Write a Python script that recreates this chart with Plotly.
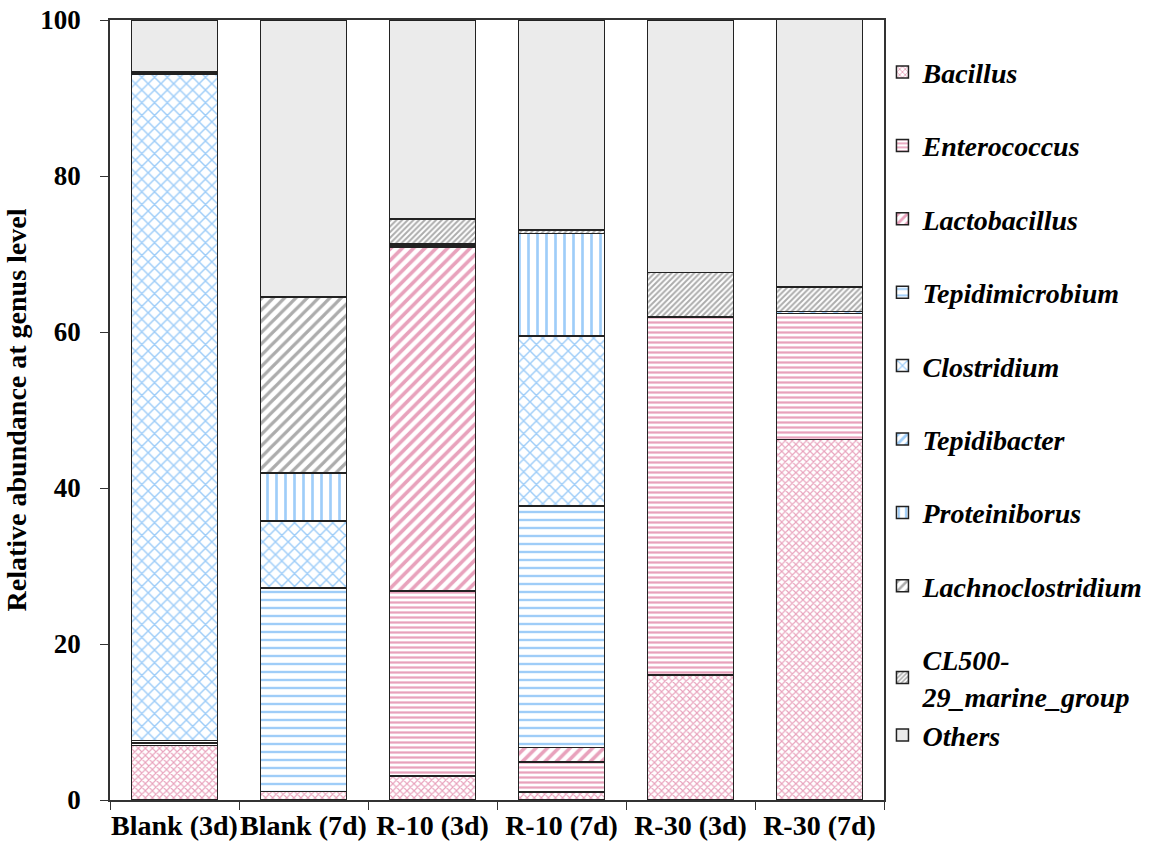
import plotly.graph_objects as go

categories = ["Blank (3d)", "Blank (7d)", "R-10 (3d)", "R-10 (7d)", "R-30 (3d)", "R-30 (7d)"]
genera = ["Bacillus", "Enterococcus", "Lactobacillus", "Tepidimicrobium", "Clostridium",
          "Tepidibacter", "Proteiniborus", "Lachnoclostridium", "CL500-29_marine_group", "Others"]

bacillus = [7.0, 1.1, 3.1, 1.0, 16.0, 46.2]
enterococcus = [0.3, 0.0, 23.7, 3.9, 45.9, 16.2]
lactobacillus = [0.1, 0.0, 44.1, 1.8, 0.0, 0.0]
tepidimicrobium = [0.2, 26.1, 0.0, 31.0, 0.0, 0.0]
clostridium = [85.4, 8.6, 0.0, 21.8, 0.0, 0.0]
tepidibacter = [0.1, 0.0, 0.2, 0.0, 0.0, 0.2]
proteiniborus = [0.1, 6.1, 0.0, 13.1, 0.0, 0.0]
lachnoclostridium = [0.1, 22.6, 0.2, 0.0, 0.0, 0.0]
cl500 = [0.1, 0.0, 3.2, 0.5, 5.7, 3.2]
others = [6.6, 35.5, 25.5, 26.9, 32.4, 34.4]

series = [bacillus, enterococcus, lactobacillus, tepidimicrobium, clostridium,
          tepidibacter, proteiniborus, lachnoclostridium, cl500, others]

pink = "#d2467a"
blue = "#3f9cf2"
gray = "#5a5a5a"
styles = [
    dict(shape="x", fg=pink, size=5, sol=0.4),
    dict(shape="-", fg=pink, size=5, sol=0.45),
    dict(shape="/", fg=pink, size=8, sol=0.45),
    dict(shape="-", fg=blue, size=8, sol=0.3),
    dict(shape="x", fg=blue, size=9, sol=0.3),
    dict(shape="/", fg=blue, size=8, sol=0.45),
    dict(shape="|", fg=blue, size=9, sol=0.3),
    dict(shape="/", fg=gray, size=8, sol=0.4),
    dict(shape="/", fg=gray, size=4, sol=0.5),
    None,
]

fig = go.Figure()
for i, (name, vals) in enumerate(zip(genera, series)):
    label = "CL500-<br>29_marine_group" if name.startswith("CL500") else name
    st = styles[i]
    if st is None:
        marker = dict(color="#ebebeb", line=dict(color="#222222", width=1.5))
    else:
        marker = dict(color="white", line=dict(color="#222222", width=1.5),
                      pattern=dict(shape=st["shape"], fgcolor=st["fg"], bgcolor="white",
                                   size=st["size"], solidity=st["sol"], fillmode="overlay"))
    group = "g8" if i >= 8 else f"g{i}"
    fig.add_trace(go.Bar(x=categories, y=vals, name=f"<b><i>{label}</i></b>",
                         marker=marker, width=0.667, legendgroup=group))

fig.update_layout(
    barmode="stack",
    width=1149, height=851,
    margin=dict(l=110, r=265, t=20, b=51, autoexpand=False),
    paper_bgcolor="white", plot_bgcolor="white",
    font=dict(family="Liberation Serif", color="black", size=20),
    showlegend=True,
    legend=dict(x=0.998, y=0.965, xanchor="left", yanchor="top",
                traceorder="grouped", tracegroupgap=34,
                font=dict(size=28, family="Liberation Serif"),
                bgcolor="rgba(0,0,0,0)"),
)
fig.update_xaxes(
    showline=True, linecolor="#333333", linewidth=1.5, mirror=True, automargin=False,
    ticks="outside", tickson="boundaries", ticklen=8, tickcolor="#333333",
    tickfont=dict(size=28, family="Liberation Serif"), tickangle=0,
    tickprefix="<b>", ticksuffix="</b>",
)
fig.update_yaxes(
    range=[0, 100], dtick=20, showgrid=False, zeroline=False, automargin=False,
    showline=True, linecolor="#333333", linewidth=1.5, mirror=True,
    ticks="outside", ticklen=8, tickcolor="#333333",
    tickfont=dict(size=27, family="Liberation Serif"), ticklabeloverflow="allow",
    tickprefix="<b>", ticksuffix="</b>", ticklabelstandoff=14,
    title=dict(text="<b>Relative abundance at genus level</b>", font=dict(size=28), standoff=6),
)
fig.write_html("out.html", config={"displayModeBar": False},
               post_script="document.body.style.margin='0';document.body.style.overflow='hidden';")
